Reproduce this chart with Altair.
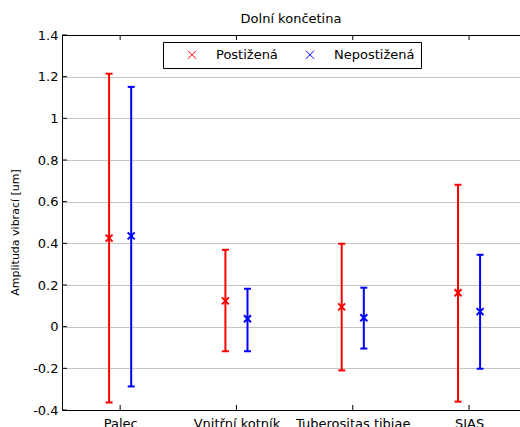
import json
import altair as alt
import pandas as pd

categories = ["Palec", "Vnitřní kotník", "Tuberositas tibiae", "SIAS"]
series = ["Postižená", "Nepostižená"]
colors = ["#ff0000", "#0000ff"]
post_mean = [0.425, 0.124, 0.095, 0.163]
post_low = [-0.364, -0.118, -0.21, -0.36]
post_high = [1.214, 0.369, 0.398, 0.681]
nepost_mean = [0.436, 0.038, 0.043, 0.072]
nepost_low = [-0.287, -0.118, -0.105, -0.202]
nepost_high = [1.151, 0.182, 0.187, 0.345]
y_ticks = [-0.4, -0.2, 0, 0.2, 0.4, 0.6, 0.8, 1.0, 1.2, 1.4]

dodge = {"Postižená": -0.095, "Nepostižená": 0.095}
means = {"Postižená": post_mean, "Nepostižená": nepost_mean}
lows = {"Postižená": post_low, "Nepostižená": nepost_low}
highs = {"Postižená": post_high, "Nepostižená": nepost_high}

rows = []
for s in series:
    for i, c in enumerate(categories):
        rows.append({"cat": c, "series": s, "x": i + 1 + dodge[s],
                     "mean": means[s][i], "lo": lows[s][i], "hi": highs[s][i]})
df = pd.DataFrame(rows)
cat_df = pd.DataFrame({"pos": list(range(1, len(categories) + 1))})
ytick_df = pd.DataFrame({"v": y_ticks})

W, H = 458, 375
FONT = "DejaVu Sans"
XPATH = "M-1,-1L1,1M-1,1L1,-1"

cat_js = json.dumps(categories, ensure_ascii=False)
x_scale = alt.Scale(domain=[0.5, 0.5 + W / 116.3], nice=False, zero=False)
x_axis = alt.Axis(values=list(range(1, len(categories) + 1)),
                  labelExpr=f"{cat_js}[datum.value - 1]",
                  title=None, grid=False, ticks=False, tickSize=0,
                  labelPadding=7, labelFont=FONT, labelFontSize=13,
                  labelColor="black", domainColor="black", domainWidth=1,
                  labelFlush=False, labelOverlap=False)
y_scale = alt.Scale(domain=[-0.4, 1.4], nice=False, zero=False)
y_axis = alt.Axis(values=y_ticks,
                  labelExpr="datum.value < 0 ? '-' + format(-datum.value, '~g') : format(datum.value, '~g')",
                  title="Amplituda vibrací [um]", titleFont=FONT, titleFontSize=11,
                  titleFontWeight="normal", titleColor="black",
                  titleAngle=270, titleAlign="center", titleBaseline="middle",
                  titleX=-47, titleY=197,
                  grid=True, gridColor="#8c8c8c", gridDash=[1, 1], gridWidth=1,
                  ticks=False, tickSize=0, labelPadding=4,
                  labelFont=FONT, labelFontSize=13, labelColor="black",
                  domainColor="black", domainWidth=1, labelFlush=False,
                  labelOverlap=False)

color_scale = alt.Scale(domain=series, range=colors)
legend = alt.Legend(title=None, orient="none", legendX=101, legendY=7,
                    direction="horizontal", strokeColor="black",
                    fillColor="white", padding=6, cornerRadius=0,
                    symbolType=XPATH, symbolSize=64,
                    symbolStrokeWidth=1, symbolOffset=16.5,
                    symbolFillColor="transparent",
                    labelOffset=17.5, columnPadding=9,
                    labelFont=FONT, labelFontSize=13,
                    labelColor="black", labelLimit=300)
color_enc = alt.Color("series:N", scale=color_scale, legend=legend)

base = alt.Chart(df)

pts = base.mark_point(shape=XPATH, filled=False, size=49, strokeWidth=2, opacity=1).encode(
    x=alt.X("x:Q", scale=x_scale, axis=x_axis),
    y=alt.Y("mean:Q", scale=y_scale, axis=y_axis),
    color=color_enc,
)
err = base.mark_rule(strokeWidth=2).encode(
    x=alt.X("x:Q", scale=x_scale, axis=x_axis),
    y=alt.Y("lo:Q", scale=y_scale, axis=y_axis),
    y2="hi:Q",
    color=color_enc,
)
cap_lo = base.mark_tick(orient="horizontal", size=7, thickness=2, opacity=1).encode(
    x=alt.X("x:Q", scale=x_scale, axis=x_axis),
    y=alt.Y("lo:Q", scale=y_scale, axis=y_axis),
    color=color_enc,
)
cap_hi = base.mark_tick(orient="horizontal", size=7, thickness=2, opacity=1).encode(
    x=alt.X("x:Q", scale=x_scale, axis=x_axis),
    y=alt.Y("hi:Q", scale=y_scale, axis=y_axis),
    color=color_enc,
)

top_border = alt.Chart(cat_df).mark_rule(color="black", strokeWidth=1).encode(
    x=alt.value(0), x2=alt.value(W), y=alt.value(0.5))
top_ticks = alt.Chart(cat_df).mark_rule(color="black", strokeWidth=1).encode(
    x=alt.X("pos:Q", scale=x_scale, axis=x_axis), y=alt.value(0), y2=alt.value(5))
bot_ticks = alt.Chart(cat_df).mark_rule(color="black", strokeWidth=1).encode(
    x=alt.X("pos:Q", scale=x_scale, axis=x_axis), y=alt.value(H - 5), y2=alt.value(H))
left_ticks = alt.Chart(ytick_df).mark_rule(color="black", strokeWidth=1).encode(
    y=alt.Y("v:Q", scale=y_scale, axis=y_axis), x=alt.value(0), x2=alt.value(5))

chart = alt.layer(pts, left_ticks, top_border, top_ticks, bot_ticks, err, cap_lo, cap_hi).properties(
    width=W, height=H,
    autosize=alt.AutoSizeParams(type="none"),
    padding={"left": 62, "top": 35, "right": 0, "bottom": 17},
    title=alt.TitleParams("Dolní končetina", font=FONT, fontSize=13,
                          fontWeight="normal", color="black", offset=3, anchor="middle"),
    background="white",
).configure_view(strokeWidth=0)

chart.save("out.html", embed_options={"renderer": "svg", "actions": False})
